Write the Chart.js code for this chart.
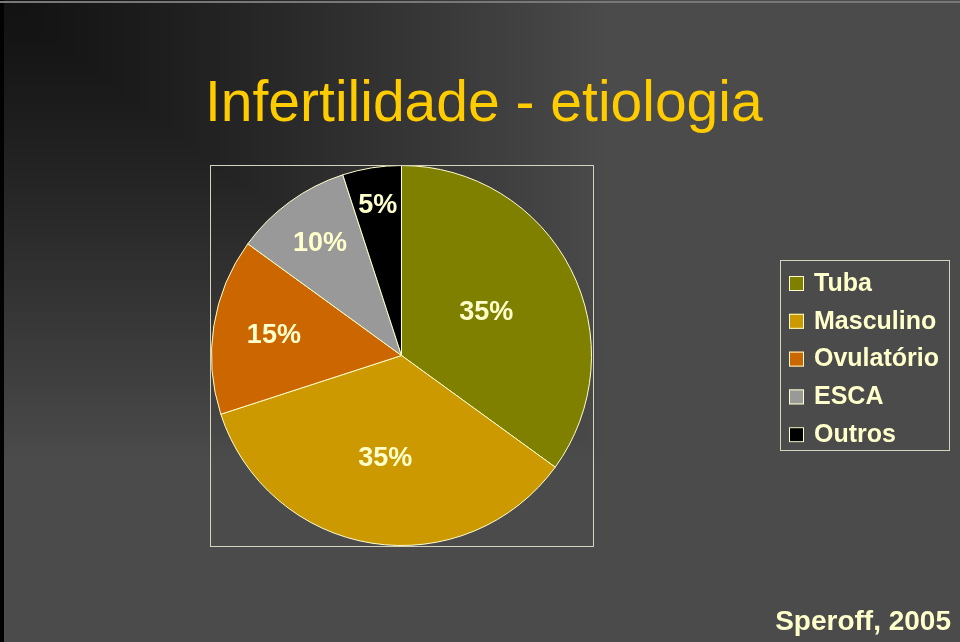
<!DOCTYPE html>
<html>
<head>
<meta charset="utf-8">
<script src="https://cdn.jsdelivr.net/npm/chart.js@4"></script>
<style>
  html, body { margin: 0; padding: 0; background: #4b4b4b; }
  canvas { display: block; }
</style>
</head>
<body>
<canvas id="pie" width="960" height="642"></canvas>
<script>
var categories = ['Tuba', 'Masculino', 'Ovulatório', 'ESCA', 'Outros'];
var shares = [35, 35, 15, 10, 5];
var sliceColors = ['#808000', '#cc9900', '#cc6600', '#999999', '#000000'];
var chartTitle = 'Infertilidade - etiologia';
var sourceNote = 'Speroff, 2005';

var cream = '#ffffcc';
var font = '"Liberation Sans", Arial, sans-serif';

// slide background: dark in the top left corner, grey elsewhere
var slideBackground = {
    id: 'slideBackground',
    beforeDraw: function (chart) {
        var ctx = chart.ctx;
        var w = chart.width, h = chart.height;
        var img = ctx.createImageData(w, h);
        for (var y = 0; y < h; y++) {
            for (var x = 0; x < w; x++) {
                var t = Math.min(1, Math.max(x / 610, y / 460));
                var v = Math.round(18 + 57 * Math.pow(t, 1.2));
                if (x < 4) v = 2;
                if (y === 1 || y === 2) v = 120;
                var k = (y * w + x) * 4;
                img.data[k] = v; img.data[k + 1] = v; img.data[k + 2] = v; img.data[k + 3] = 255;
            }
        }
        ctx.putImageData(img, 0, 0);
    }
};

// labels, frame, legend and the title are drawn here
var decorations = {
    id: 'decorations',
    afterDraw: function (chart, args, opts) {
        var ctx = chart.ctx;
        var area = chart.chartArea;
        ctx.save();

        // frame round the pie
        ctx.strokeStyle = '#d4d4bc';
        ctx.lineWidth = 1;
        ctx.strokeRect(Math.round(area.left) + 0.5, Math.round(area.top) + 0.5,
            Math.round(area.right - area.left), Math.round(area.bottom - area.top));

        // percent labels
        var meta = chart.getDatasetMeta(0);
        ctx.fillStyle = cream;
        ctx.font = 'bold 27px ' + font;
        ctx.textAlign = 'center';
        ctx.textBaseline = 'middle';
        meta.data.forEach(function (arc, i) {
            var p = arc.getProps(['x', 'y', 'startAngle', 'endAngle', 'outerRadius']);
            var mid = (p.startAngle + p.endAngle) / 2;
            var r = p.outerRadius * opts.labelRadius[i];
            ctx.fillText(chart.data.datasets[0].data[i] + '%',
                p.x + Math.cos(mid) * r, p.y + Math.sin(mid) * r);
        });

        // title
        ctx.fillStyle = '#ffcc00';
        ctx.font = '57px ' + font;
        ctx.textAlign = 'left';
        ctx.textBaseline = 'alphabetic';
        ctx.fillText(chartTitle, 205, 121);

        // legend
        ctx.strokeStyle = '#d4d4bc';
        ctx.strokeRect(780.5, 260.5, 169, 190);
        ctx.font = 'bold 25px ' + font;
        ctx.textBaseline = 'middle';
        chart.data.labels.forEach(function (name, i) {
            var y = 283 + i * 37.8;
            ctx.fillStyle = chart.data.datasets[0].backgroundColor[i];
            ctx.fillRect(789, y - 7, 15, 15);
            ctx.strokeStyle = cream;
            ctx.strokeRect(789.5, y - 6.5, 14, 14);
            ctx.fillStyle = cream;
            ctx.fillText(name, 814, y + 1);
        });

        // source
        ctx.font = 'bold 28px ' + font;
        ctx.textAlign = 'right';
        ctx.fillText(sourceNote, 951, 622);
        ctx.restore();
    }
};

new Chart(document.getElementById('pie'), {
    type: 'pie',
    data: {
        labels: categories,
        datasets: [{
            data: shares,
            backgroundColor: sliceColors,
            borderColor: cream,
            borderWidth: 1
        }]
    },
    options: {
        responsive: false,
        animation: false,
        events: [],
        layout: {
            padding: { left: 210, top: 165, right: 367, bottom: 96 }
        },
        plugins: {
            legend: { display: false },
            tooltip: { enabled: false },
            decorations: { labelRadius: [0.5, 0.55, 0.68, 0.73, 0.8] }
        }
    },
    plugins: [slideBackground, decorations]
});
</script>
</body>
</html>
